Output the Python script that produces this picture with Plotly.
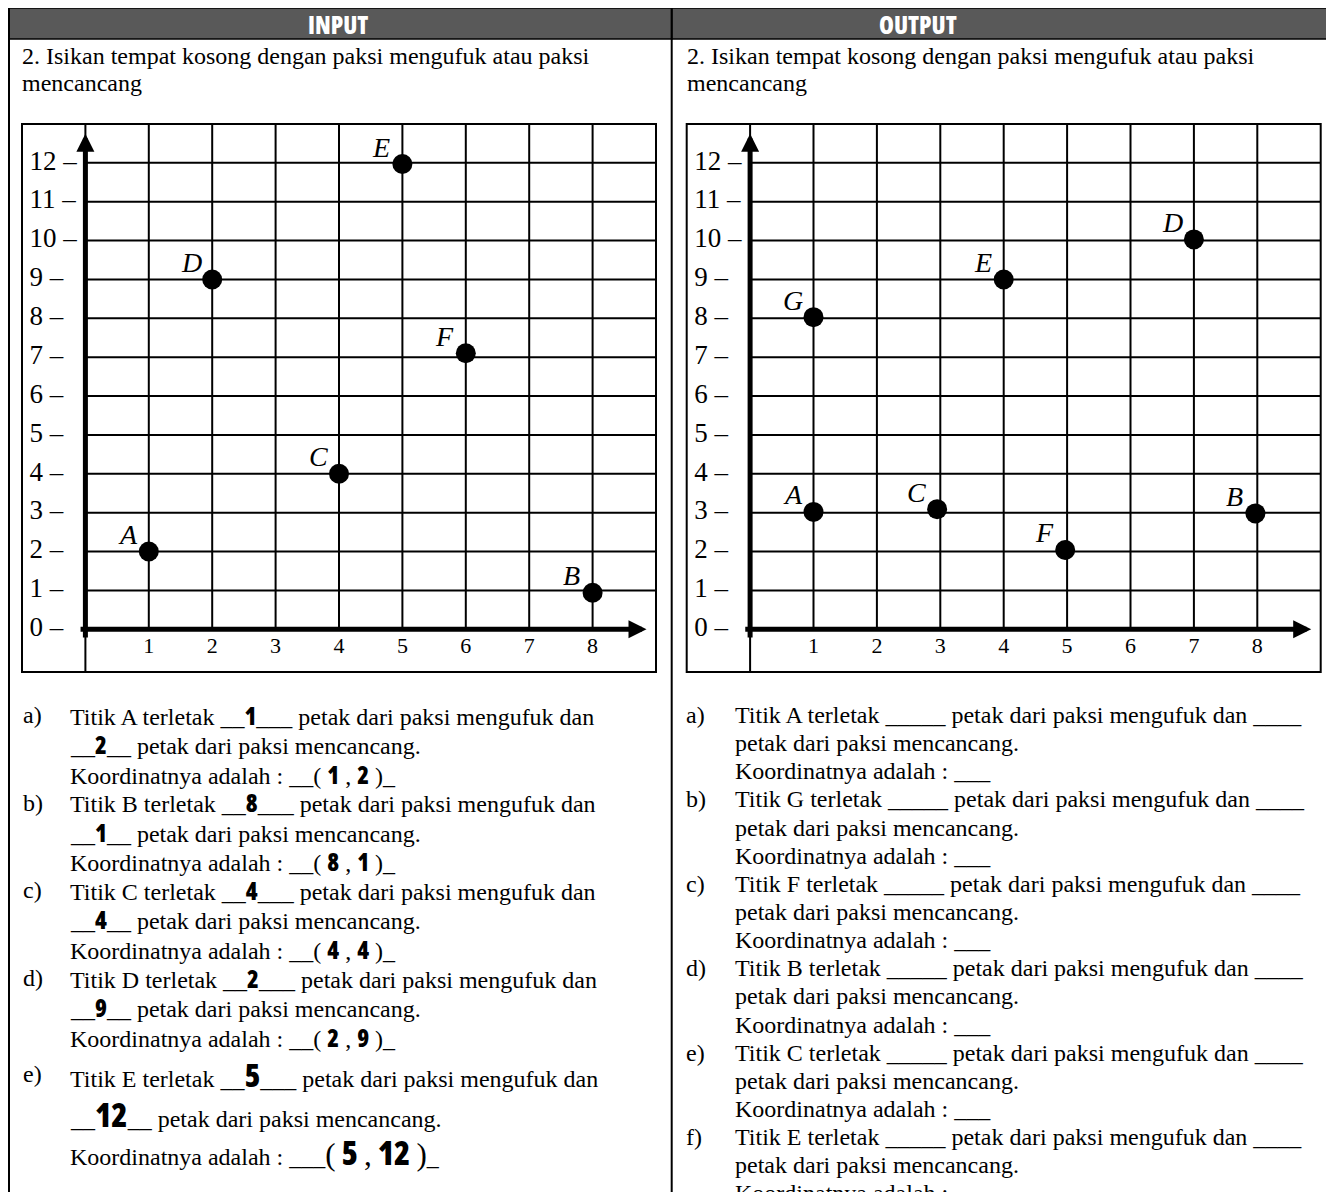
import plotly.graph_objects as go

# the page body keeps its default 8px margin, so the figure is drawn inside it
OFF = 8
W, H = 1334 - 2 * OFF, 1200 - 2 * OFF


def px(x):
    return (x - OFF) / W


def py(y):
    return 1 - (y - OFF) / H


# ---- data -------------------------------------------------------------
x_ticks = [1, 2, 3, 4, 5, 6, 7, 8]
y_ticks = [0, 1, 2, 3, 4, 5, 6, 7, 8, 9, 10, 11, 12]
X_RANGE = [-1, 9]
Y_RANGE = [-1.1, 13]

in_names = ['A', 'B', 'C', 'D', 'E', 'F']
in_x = [1, 8, 4, 2, 5, 6]
in_y = [2, 0.94, 4, 9, 11.97, 7.1]

out_names = ['A', 'B', 'C', 'D', 'E', 'F', 'G']
out_x = [1, 7.97, 2.95, 7, 4, 4.97, 1]
out_y = [3.02, 2.98, 3.09, 10.03, 9, 2.04, 8.03]

in_questions = ['A', 'B', 'C', 'D', 'E']
out_questions = ['A', 'G', 'F', 'B', 'C', 'E']
item_letters = ['a)', 'b)', 'c)', 'd)', 'e)', 'f)']

title_lines = ['2. Isikan tempat kosong dengan paksi mengufuk atau paksi', 'mencancang']

SERIF = 'Liberation Serif, Times New Roman, serif'
NARROW = "'Open Sans','Liberation Sans',sans-serif"
BODY = 24


def num(v, size=24):
    return (f'<span style="font-family:{NARROW};font-weight:800;font-stretch:75%;'
            f'font-size:{size}px">{v}</span>')


def big(s, size=31):
    return f'<span style="font-size:{size}px">{s}</span>'


fig = go.Figure()

panels = [
    ('x', 'y', in_names, in_x, in_y),
    ('x2', 'y2', out_names, out_x, out_y),
]

for xa, ya, names, xs, ys in panels:
    # grid lines
    gx, gy = [], []
    for v in [0] + x_ticks:
        gx += [v, v, None]
        gy += [Y_RANGE[0] if v == 0 else 0, Y_RANGE[1], None]
    for v in y_ticks[1:]:
        gx += [0, X_RANGE[1], None]
        gy += [v, v, None]
    fig.add_trace(go.Scatter(x=gx, y=gy, mode='lines', xaxis=xa, yaxis=ya,
                             line=dict(color='black', width=2), hoverinfo='skip'))

    # y tick labels ("12 –")
    fig.add_trace(go.Scatter(x=[-0.88] * len(y_ticks), y=y_ticks, mode='text',
                             text=[f'{v} –' for v in y_ticks], textposition='middle right',
                             textfont=dict(family=SERIF, size=27, color='black'),
                             xaxis=xa, yaxis=ya, hoverinfo='skip'))
    # x tick labels
    fig.add_trace(go.Scatter(x=x_ticks, y=[-0.46] * len(x_ticks), mode='text',
                             text=[str(v) for v in x_ticks], textposition='middle center',
                             textfont=dict(family=SERIF, size=22, color='black'),
                             xaxis=xa, yaxis=ya, hoverinfo='skip'))
    # points
    fig.add_trace(go.Scatter(x=xs, y=ys, mode='markers',
                             marker=dict(size=20, color='black'),
                             xaxis=xa, yaxis=ya, cliponaxis=False))
    for n, x, y in zip(names, xs, ys):
        fig.add_annotation(x=x, y=y, xref=xa, yref=ya, text=f'<i>{n}</i>', showarrow=False,
                           xanchor='center', yanchor='middle', xshift=-21, yshift=17,
                           font=dict(family=SERIF, size=28, color='black'))

    # thick axes with arrow heads
    fig.add_annotation(x=0, y=12.75, ax=0, ay=-0.25, xref=xa, yref=ya, axref=xa, ayref=ya,
                       text='', showarrow=True, arrowhead=2, arrowsize=0.72,
                       arrowwidth=5, arrowcolor='black')
    fig.add_annotation(x=8.85, y=0, ax=-0.1, ay=0, xref=xa, yref=ya, axref=xa, ayref=ya,
                       text='', showarrow=True, arrowhead=2, arrowsize=0.72,
                       arrowwidth=5, arrowcolor='black')

    # frame round the grid
    fig.add_shape(type='rect', xref=f'{xa} domain', yref=f'{ya} domain',
                  x0=0, x1=1, y0=0, y1=1, line=dict(color='black', width=2))

# ---- page furniture ---------------------------------------------------
for x0, x1 in [(8, 671.7), (671.7, 1340)]:
    fig.add_shape(type='rect', xref='paper', yref='paper', x0=px(x0), x1=px(x1),
                  y0=py(39), y1=py(8), fillcolor='#595959', line=dict(color='black', width=1.5))
for xl in [9, 671.7]:
    fig.add_shape(type='line', xref='paper', yref='paper', x0=px(xl), x1=px(xl),
                  y0=py(1205), y1=py(8), line=dict(color='black', width=2))

for label, xc in [('INPUT', 338), ('OUTPUT', 918)]:
    fig.add_annotation(x=px(xc), y=py(24.5), xref='paper', yref='paper',
                       text=(f'<span style="font-family:{NARROW};font-weight:800;'
                             f'font-stretch:75%">{label}</span>'),
                       showarrow=False, xanchor='center', yanchor='middle', borderpad=0,
                       font=dict(size=24, color='white'))

for left in [22, 686.7]:
    for k, line in enumerate(title_lines):
        fig.add_annotation(x=px(left - 2), y=py(56 + 27 * k), xref='paper', yref='paper',
                           text=line, showarrow=False, xanchor='left', yanchor='middle',
                           font=dict(family=SERIF, size=BODY, color='black'))


def text_line(x, y, s):
    fig.add_annotation(x=px(x), y=py(y), xref='paper', yref='paper', text=s,
                       showarrow=False, xanchor='left', yanchor='middle',
                       font=dict(family=SERIF, size=BODY, color='black'))


# answered questions (left)
for g, name in enumerate(in_questions):
    i = in_names.index(name)
    hx, vy = round(in_x[i]), round(in_y[i])
    if g < 4:
        ys = [715 + 87.7 * g + 29.5 * k for k in range(3)]
        lines = [f'Titik {name} terletak __{num(hx)}___ petak dari paksi mengufuk dan',
                 f'__{num(vy)}__ petak dari paksi mencancang.',
                 f'Koordinatnya adalah : __( {num(hx)} , {num(vy)} )_']
    else:
        ys = [1074, 1114, 1152]
        lines = [f'Titik {name} terletak __{num(hx, 32)}___ petak dari paksi mengufuk dan',
                 f'__{num(vy, 33)}__ petak dari paksi mencancang.',
                 f'Koordinatnya adalah : ___{big("(")} {num(hx, 33)} {big(",")} {num(vy, 33)} {big(")")}_']
    text_line(21, ys[0], item_letters[g])
    for y, s in zip(ys, lines):
        text_line(68, y, s)

# empty questions (right)
for g, name in enumerate(out_questions):
    ys = [715 + 84.4 * g + 28.2 * k for k in range(3)]
    lines = [f'Titik {name} terletak _____ petak dari paksi mengufuk dan ____',
             'petak dari paksi mencancang.',
             'Koordinatnya adalah : ___']
    text_line(684, ys[0], item_letters[g])
    for y, s in zip(ys, lines):
        text_line(733, y, s)

fig.update_layout(
    width=W, height=H,
    margin=dict(l=0, r=0, t=0, b=0),
    paper_bgcolor='white', plot_bgcolor='white',
    showlegend=False,
    xaxis=dict(domain=[px(22), px(656)], range=X_RANGE, visible=False, fixedrange=True),
    yaxis=dict(domain=[py(672), py(124)], range=Y_RANGE, visible=False, fixedrange=True),
    xaxis2=dict(domain=[px(686.7), px(1320.7)], range=X_RANGE, visible=False,
                anchor='y2', fixedrange=True),
    yaxis2=dict(domain=[py(672), py(124)], range=Y_RANGE, visible=False,
                anchor='x2', fixedrange=True),
)

fig.write_html("out.html")
